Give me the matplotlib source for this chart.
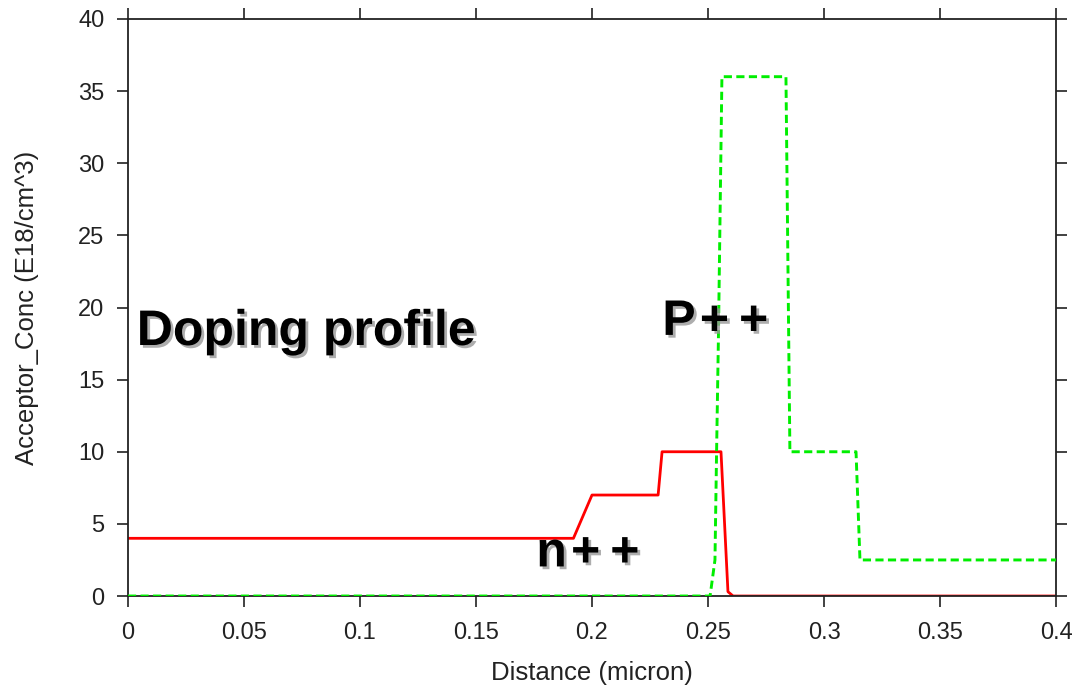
import matplotlib.pyplot as plt
import matplotlib.patheffects as pe

# acceptor profile (red, solid)
red_x = [0.0, 0.192, 0.200, 0.2285, 0.2302, 0.2556, 0.2586, 0.2608, 0.4]
red_y = [4.0, 4.0, 7.0, 7.0, 10.0, 10.0, 0.3, 0.0, 0.0]

# second profile (green, dashed)
green_x = [0.0, 0.2509, 0.2530, 0.2537, 0.2545, 0.2560, 0.2836, 0.2853, 0.3138, 0.3155, 0.4]
green_y = [0.0, 0.0, 2.5, 10.0, 18.0, 36.0, 36.0, 10.0, 10.0, 2.5, 2.5]

x_ticks = [0, 0.05, 0.1, 0.15, 0.2, 0.25, 0.3, 0.35, 0.4]
x_labels = ["0", "0.05", "0.1", "0.15", "0.2", "0.25", "0.3", "0.35", "0.4"]
y_ticks = [0, 5, 10, 15, 20, 25, 30, 35, 40]

plt.rcParams['font.family'] = ['Liberation Sans', 'DejaVu Sans']

fig = plt.figure(figsize=(10.79, 6.88), dpi=100)
ax = fig.add_axes([0.1186, 0.1337, 0.8601, 0.8387])

ax.plot(green_x, green_y, color='#00ee00', lw=2.1, dashes=(2.8, 1.5), zorder=3)
ax.plot(red_x, red_y, color='#ff0000', lw=2.0, zorder=2)

ax.set_xlim(0, 0.4)
ax.set_ylim(0, 40)
ax.set_xticks(x_ticks)
ax.set_xticklabels(x_labels)
ax.set_yticks(y_ticks)
ax.tick_params(direction='out', length=8, width=1.3, labelsize=17, color='#333333',
               labelcolor='#222222', top=True, right=True, pad=9)
ax.tick_params(axis='x', pad=11)
for s in ax.spines.values():
    s.set_linewidth(1.3)
    s.set_color('#222222')

ax.set_xlabel('Distance (micron)', fontsize=18.5, color='#222222', labelpad=12)
ax.set_ylabel('Acceptor_Conc (E18/cm^3)', fontsize=18.5, color='#222222', labelpad=28)

shadow = [pe.SimplePatchShadow(offset=(2, -2), shadow_rgbFace='#999999', alpha=0.8), pe.Normal()]
txt_kw = dict(fontweight='bold', color='black', path_effects=shadow, fontsize=36)
ax.text(0.0038, 17.4, 'Doping profile', **txt_kw)
ax.text(0.2303, 18.1, 'P\u200a+\u2009+', **txt_kw)
ax.text(0.1760, 2.05, 'n\u200a+\u2009+', **txt_kw)

fig.savefig('out.png', dpi=100)
